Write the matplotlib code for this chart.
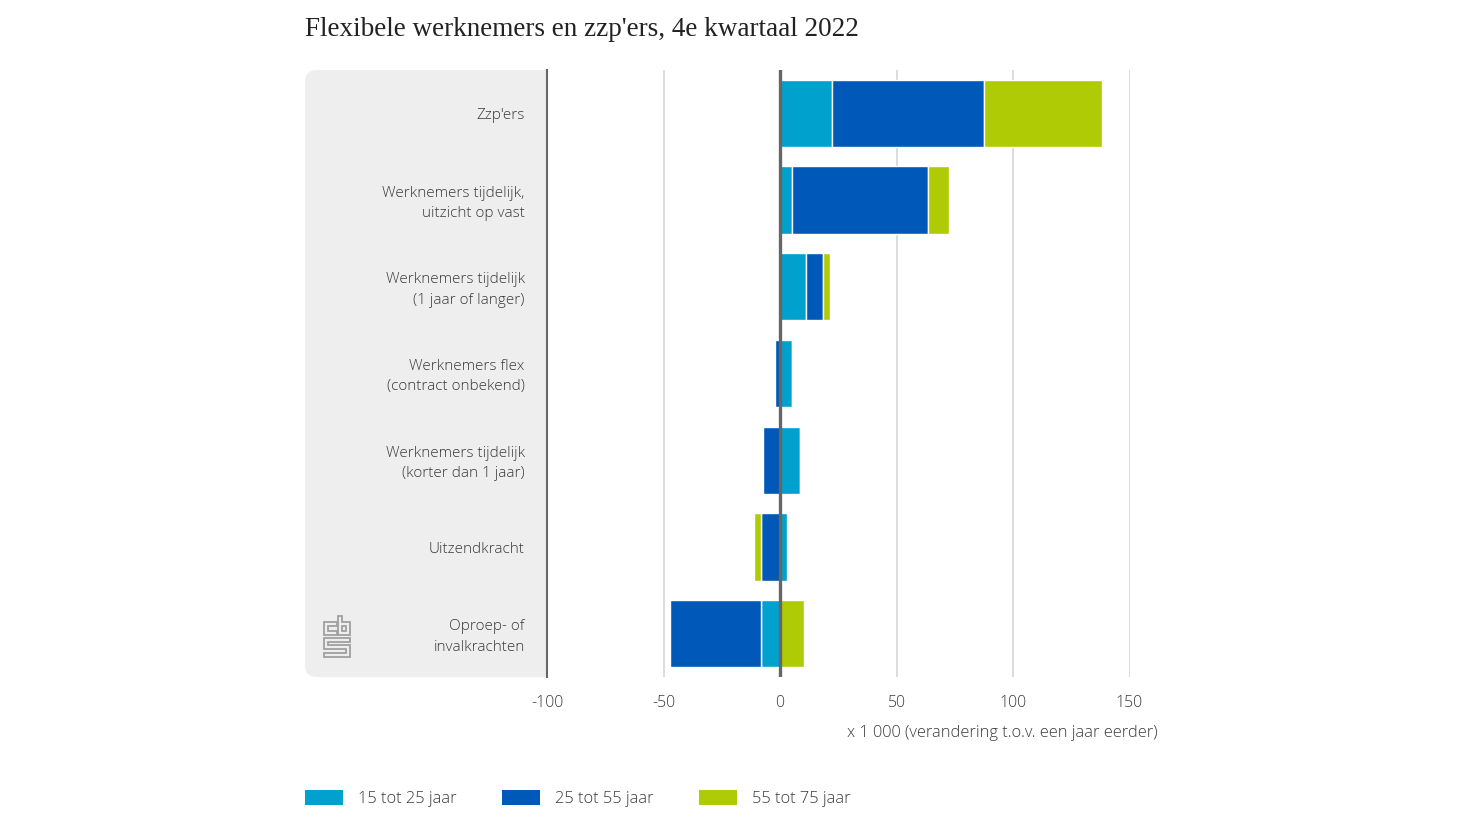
import matplotlib
matplotlib.use("Agg")
import matplotlib.pyplot as plt
from matplotlib.patches import FancyBboxPatch, Polygon, Rectangle
from matplotlib.transforms import ScaledTranslation
import numpy as np

categories = ["Zzp'ers", "Werknemers tijdelijk,\nuitzicht op vast", "Werknemers tijdelijk\n(1 jaar of langer)",
              "Werknemers flex\n(contract onbekend)", "Werknemers tijdelijk\n(korter dan 1 jaar)",
              "Uitzendkracht", "Oproep- of\ninvalkrachten"]
jong = [22.5, 5, 11, 5, 8.5, 3, -8]
midden = [65, 58.5, 7.5, -2, -7.5, -8, -39]
oud = [50.5, 9, 3, 0, 0, -3, 10.5]
series_names = ["15 tot 25 jaar", "25 tot 55 jaar", "55 tot 75 jaar"]
colors = ["#00A1CD", "#0058B8", "#AFCB05"]
xticks = [-100, -50, 0, 50, 100, 150]

W, H = 1484, 835
plt.rcParams["font.family"] = ["Open Sans", "DejaVu Sans"]
plt.rcParams["axes.unicode_minus"] = False
TXT = "#3A3A3A"

fig = plt.figure(figsize=(W / 100, H / 100), dpi=100)
ax = fig.add_axes([547 / W, 1 - 677 / H, (1129.5 - 547) / W, (677 - 70) / H])

# achtergrondlaag in pixels van de figuur
bg = fig.add_axes([0, 0, 1, 1], zorder=-1)
bg.set_xlim(0, W)
bg.set_ylim(H, 0)
bg.axis("off")
bg.add_patch(FancyBboxPatch((305, 70), 260, 607, boxstyle="round,pad=0,rounding_size=12", fc="#EEEEEE", ec="none"))
bg.add_patch(Rectangle((547, 60), 40, 630, fc="white", ec="none"))

# cbs logo
logo_c = [(337, 622), (324, 622), (324, 635), (337, 635), (337, 631), (328, 631), (328, 626), (337, 626)]
logo_b = [(338, 616), (342, 616), (342, 622), (350, 622), (350, 635), (338, 635)]
logo_b_in = [(342, 626), (346, 626), (346, 631), (342, 631)]
logo_s = [(350, 638), (324, 638), (324, 649), (346, 649), (346, 653), (324, 653), (324, 657), (350, 657),
          (350, 645), (328, 645), (328, 642), (350, 642)]
for shape in [logo_c, logo_b, logo_b_in, logo_s]:
    bg.add_patch(Polygon(shape, closed=True, fc="none", ec="#A0A0A0", lw=1.3, joinstyle="miter"))

# gestapelde balken, positief en negatief apart
y = np.arange(len(categories))
pos = np.zeros(len(categories))
neg = np.zeros(len(categories))
for vals, c, name in zip([jong, midden, oud], colors, series_names):
    vals = np.array(vals, dtype=float)
    left = np.where(vals >= 0, pos, neg)
    ax.barh(y, vals, left=left, height=0.775, color=c, edgecolor="white", linewidth=1, label=name, zorder=2)
    pos += np.clip(vals, 0, None)
    neg += np.clip(vals, None, 0)

ax.set_xlim(-100, 150)
ax.set_ylim(6.5, -0.5)
ax.set_xticks(xticks)
ax.set_yticks(y)
ax.set_yticklabels(categories, fontsize=11, color=TXT, ha="right", linespacing=1.5, fontweight=300)
ax.tick_params(axis="y", length=0, pad=16)
ax.tick_params(axis="x", length=0, pad=12.7, labelsize=11.4, labelcolor=TXT)
for t in ax.get_xticklabels():
    t.set_fontweight(300)
# tweeregelige labels staan iets hoger dan de enkele
for t in ax.get_yticklabels():
    dy = 1.5 if "\n" in t.get_text() else -0.5
    t.set_transform(t.get_transform() + ScaledTranslation(0, dy / 100, fig.dpi_scale_trans))
ax.patch.set_alpha(0)
ax.grid(axis="x", color="#D2D2D2", linewidth=1.1, zorder=1)
ax.set_axisbelow(True)
for s in ["top", "right", "bottom"]:
    ax.spines[s].set_visible(False)
ax.spines["left"].set_color("#666666")
ax.spines["left"].set_linewidth(1.5)
ax.axvline(0, color="#666666", linewidth=2.4, zorder=3)

# titel, aslabel en legenda
bg.text(305, 29, "Flexibele werknemers en zzp'ers, 4e kwartaal 2022", fontsize=19.5, family="Liberation Serif",
        color="#222222", va="center", ha="left")
bg.text(1158, 733, "x 1 000 (verandering t.o.v. een jaar eerder)", fontsize=11.8, color=TXT, ha="right", va="center",
        fontweight=300)
for x0, c, name in zip([305, 502, 699], colors, series_names):
    bg.add_patch(Rectangle((x0, 790), 37.5, 15, fc=c, ec="none"))
    bg.text(x0 + 53, 799, name, fontsize=11.75, color=TXT, va="center", ha="left", fontweight=300)

fig.savefig("out.png", dpi=100)
